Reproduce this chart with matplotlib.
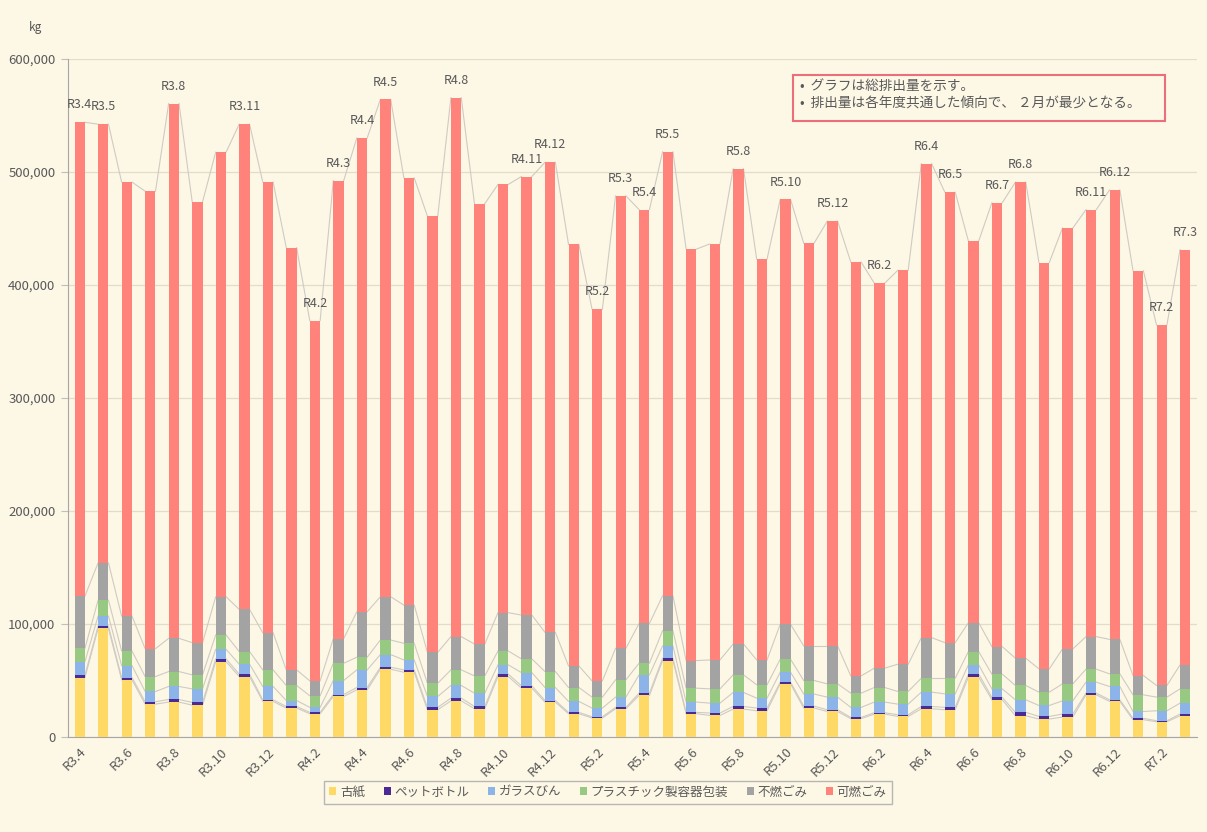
import matplotlib
matplotlib.use("Agg")
import matplotlib.pyplot as plt
import numpy as np
from matplotlib.patches import Rectangle
from matplotlib.ticker import FuncFormatter

plt.rcParams['font.family'] = ['Noto Sans CJK JP', 'DejaVu Sans']

months = ["R3.4", "R3.5", "R3.6", "R3.7", "R3.8", "R3.9", "R3.10", "R3.11", "R3.12",
          "R4.1", "R4.2", "R4.3", "R4.4", "R4.5", "R4.6", "R4.7", "R4.8", "R4.9", "R4.10", "R4.11", "R4.12",
          "R5.1", "R5.2", "R5.3", "R5.4", "R5.5", "R5.6", "R5.7", "R5.8", "R5.9", "R5.10", "R5.11", "R5.12",
          "R6.1", "R6.2", "R6.3", "R6.4", "R6.5", "R6.6", "R6.7", "R6.8", "R6.9", "R6.10", "R6.11", "R6.12",
          "R7.1", "R7.2", "R7.3"]

furushi = [52600, 96100, 50600, 29100, 30900, 28200, 66700, 53500, 31500,
           25600, 20600, 35900, 41700, 60000, 57300, 24100, 32000, 25000, 53500, 43200, 30900,
           20600, 16800, 25000, 36800, 67600, 20600, 19100, 24700, 23200, 47000, 25600, 22600,
           16200, 20300, 18200, 25000, 24100, 52900, 32900, 18800, 15900, 17600, 37300, 31500,
           15300, 13500, 18800]
pet = [2100, 2100, 2000, 2100, 2300, 2400, 2400, 2100, 1400,
       1400, 1200, 1700, 2100, 1700, 2100, 2100, 2400, 2000, 2100, 2100, 1400,
       1200, 1100, 1200, 2000, 2100, 1200, 2100, 2300, 2400, 1500, 1700, 1500,
       1100, 1200, 1500, 2000, 2100, 2700, 2100, 3000, 2300, 2700, 1500, 1400,
       1200, 900, 1500]
glass = [12000, 8800, 10600, 9100, 11500, 12000, 8500, 8800, 11800,
         5300, 4400, 12400, 15600, 11200, 8800, 9700, 11200, 11800, 8200, 11700, 11500,
         9700, 7700, 9100, 16200, 10900, 9100, 8800, 12400, 8800, 8800, 10700, 11200,
         8900, 9400, 9400, 12700, 12000, 8200, 7600, 11100, 9700, 11700, 9700, 11800,
         6100, 8800, 9700]
plastic = [11800, 14100, 12900, 13200, 13200, 12400, 12700, 11200, 14700,
           13300, 10300, 15300, 11200, 12900, 14700, 11700, 13800, 15300, 12300, 12100, 14100,
           12300, 9700, 15300, 10300, 13500, 12300, 12600, 15600, 11800, 11500, 12000, 11700,
           12600, 12900, 11200, 12300, 13800, 11800, 13000, 12700, 11800, 15000, 11500, 11200,
           14700, 12100, 12600]
funen = [46200, 33000, 30900, 24700, 29400, 28500, 33800, 37300, 32900,
         13800, 13200, 21700, 40200, 38300, 33800, 27400, 29400, 28200, 33900, 38800, 34700,
         19100, 14400, 27900, 35200, 30900, 24400, 25600, 27300, 22000, 30900, 30600, 33600,
         15300, 17100, 24100, 35900, 31500, 25500, 24400, 24100, 20600, 30900, 28800, 30500,
         17100, 10300, 21200]
kanen = [419300, 388200, 384100, 404800, 473300, 390100, 393400, 429400, 398800,
         373600, 318700, 405300, 419300, 440100, 378100, 386000, 477000, 389700, 379000, 388100, 416000,
         373000, 328900, 400400, 366200, 392900, 364200, 368100, 420600, 354700, 376000, 356400, 375900,
         366200, 340700, 348600, 419400, 398600, 337900, 392800, 421300, 359600, 372500, 377900, 397700,
         358200, 319000, 367500]

series_names = ["古紙", "ペットボトル", "ガラスびん", "プラスチック製容器包装", "不燃ごみ", "可燃ごみ"]
series_colors = ["#FFD966", "#4B2A96", "#8DB4E8", "#98C983", "#A3A3A3", "#FF837B"]
labeled_months = ["R3.4", "R3.5", "R3.8", "R3.11", "R4.2", "R4.3", "R4.4", "R4.5", "R4.8",
                  "R4.11", "R4.12", "R5.2", "R5.3", "R5.4", "R5.5", "R5.8", "R5.10", "R5.12",
                  "R6.2", "R6.4", "R6.5", "R6.7", "R6.8", "R6.11", "R6.12", "R7.2", "R7.3"]
note_lines = ["•  グラフは総排出量を示す。", "•  排出量は各年度共通した傾向で、 ２月が最少となる。"]

bg = "#FDF7E6"
txt = "#595959"

fig = plt.figure(figsize=(12.07, 8.32), dpi=100, facecolor=bg)
ax = fig.add_axes([68 / 1207, 95 / 832, 1129 / 1207, 678 / 832])
ax.set_facecolor(bg)

x = np.arange(len(months))
width = 0.44
data = [furushi, pet, glass, plastic, funen, kanen]
bottom = np.zeros(len(months))
tops = []
for vals, name, col in zip(data, series_names, series_colors):
    v = np.array(vals, dtype=float)
    ax.bar(x, v, width, bottom=bottom, color=col, label=name, zorder=3, linewidth=0)
    bottom = bottom + v
    tops.append(bottom.copy())

# series lines
for top in tops:
    for i in range(len(x) - 1):
        ax.plot([x[i] + width / 2, x[i + 1] - width / 2], [top[i], top[i + 1]],
                color="#CFCBC3", lw=0.8, zorder=2)

total = tops[-1]
for m in labeled_months:
    i = months.index(m)
    ax.annotate(m, (x[i], total[i]), xytext=(0, 12.5), textcoords="offset points",
                ha="center", va="center", fontsize=9, color=txt, zorder=5)

ax.set_xlim(-0.5, len(months) - 0.5)
ax.set_ylim(0, 600000)
ax.set_yticks(np.arange(0, 600001, 100000))
ax.yaxis.set_major_formatter(FuncFormatter(lambda v, p: f"{int(v):,}"))
ax.set_xticks(x[::2])
ax.set_xticklabels(months[::2], rotation=45, ha="right", rotation_mode="anchor")
ax.tick_params(axis="x", length=0, labelsize=9.5, labelcolor=txt, pad=6)
ax.tick_params(axis="y", length=5, color="#BFBFBF", labelsize=9.5, labelcolor=txt, pad=4)
ax.grid(axis="y", color="#E3DCCB", lw=0.9, zorder=0)
for s in ["top", "right"]:
    ax.spines[s].set_visible(False)
ax.spines["left"].set_color("#A6A6A6")
ax.spines["bottom"].set_color("#A6A6A6")

fig.text(35 / 1207, 1 - 27 / 832, "kg", fontsize=8.5, color=txt, ha="center", va="center")

leg = fig.legend(loc="center", bbox_to_anchor=(608 / 1207, 1 - 792 / 832), ncol=6,
                 frameon=True, fancybox=False, fontsize=9, handlelength=0.55,
                 handleheight=0.55, handletextpad=0.3, columnspacing=1.5,
                 borderpad=0.4, labelcolor=txt)
leg.get_frame().set_edgecolor("#A6A6A6")
leg.get_frame().set_facecolor(bg)
leg.get_frame().set_linewidth(1.0)

rect = Rectangle((793 / 1207, 1 - 121 / 832), 372 / 1207, 46 / 832, transform=fig.transFigure,
                 facecolor=bg, edgecolor="#EB6E78", lw=1.5, zorder=10)
fig.patches.append(rect)
fig.text(800 / 1207, 1 - 86 / 832, note_lines[0], fontsize=9.8, color=txt, va="center", ha="left", zorder=11)
fig.text(800 / 1207, 1 - 104 / 832, note_lines[1], fontsize=9.8, color=txt, va="center", ha="left", zorder=11)

fig.savefig("out.png", dpi=100, facecolor=bg)
